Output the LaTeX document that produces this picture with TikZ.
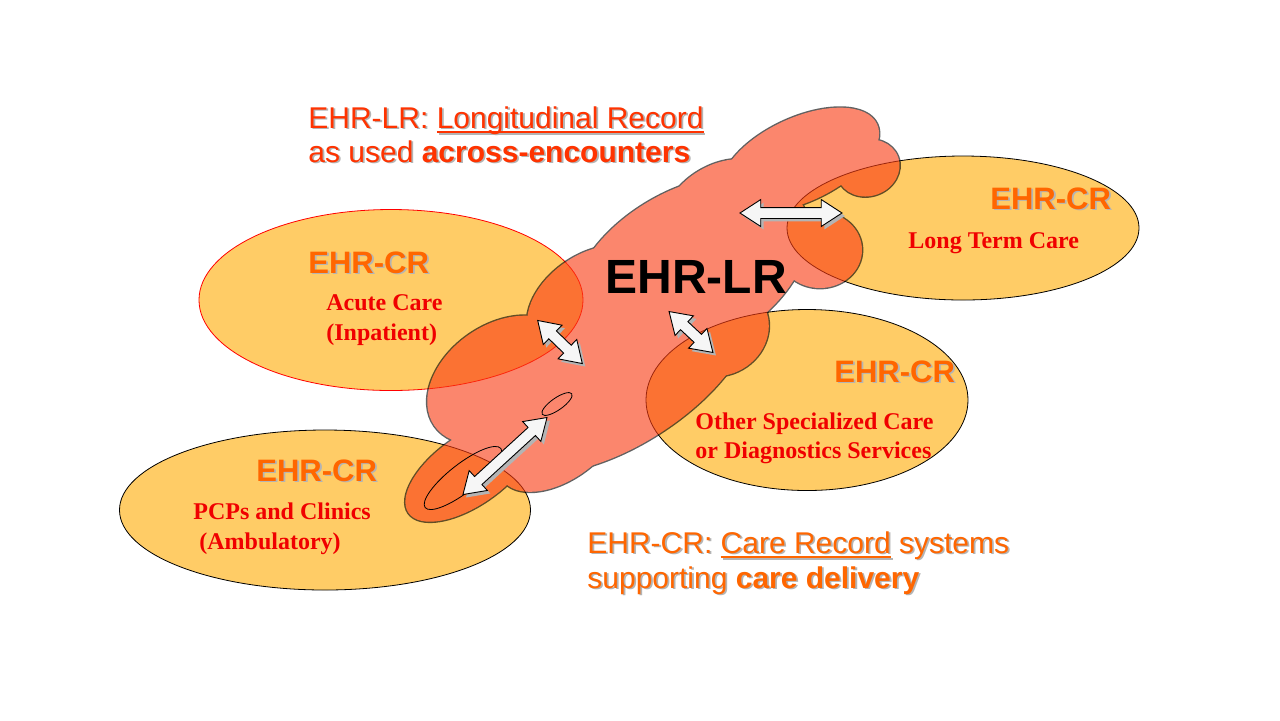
\documentclass[tikz,border=0pt]{standalone}
\usepackage{fontspec}
\setmainfont{Liberation Serif}
\newfontfamily\arialfam{Liberation Sans}
\usetikzlibrary{shapes.geometric,shapes.arrows}
\definecolor{peach}{RGB}{255,204,102}
\definecolor{cloudred}{RGB}{250,60,20}
\definecolor{titlered}{RGB}{255,51,0}
\definecolor{crorange}{RGB}{255,102,0}
\definecolor{shadowgray}{RGB}{180,180,180}
\definecolor{labelred}{RGB}{240,0,0}
\definecolor{arrowwhite}{RGB}{246,246,246}
\newcommand\shtext[1]{\rlap{\kern0.9pt\raisebox{-0.9pt}{\color{shadowgray}#1}}#1}
\newcommand\myul[1]{\setbox0\hbox{#1}\rlap{\rule[-2.6pt]{\wd0}{1.1pt}}\box0\relax}
\tikzset{
  region/.style={ellipse, draw=black, fill=peach, line width=0.4pt, inner sep=0pt},
  dblarrow/.style={double arrow, draw=black, line width=0.45pt, fill=arrowwhite,
    inner xsep=0pt, inner ysep=2.5pt,
    minimum width=13pt, double arrow head extend=4pt, double arrow tip angle=66},
  dblshadow/.style={dblarrow, draw=none, fill=shadowgray},
  crlabel/.style={anchor=base west, inner sep=0pt, text=crorange, font=\arialfam\bfseries\fontsize{15.5pt}{18pt}\selectfont},
  serifred/.style={anchor=base west, inner sep=0pt, text=labelred, font=\bfseries\fontsize{12pt}{14pt}\selectfont},
  titletext/.style={anchor=base west, inner sep=0pt, font=\arialfam\fontsize{15pt}{17pt}\selectfont}
}
\begin{document}
\begin{tikzpicture}[x=0.5pt,y=-0.5pt]
\fill[white] (0,0) rectangle (1280,720);
\useasboundingbox (0,0) rectangle (1280,720);

% care record regions
\node[region, draw=red, minimum width=192pt, minimum height=90.5pt] (acute) at (391,300) {};
\node[region, minimum width=176pt, minimum height=72pt] (ltc) at (963,228) {};
\node[region, minimum width=161pt, minimum height=90.5pt] (osc) at (807,400) {};
\node[region, minimum width=205.5pt, minimum height=80pt] (pcp) at (325,510) {};

% longitudinal record cloud
\def\lobes{800/160/85/42/25, 868/168/32/28/20, 820/250/42/38/0,
      690/270/130/80/30, 622/372/150/72/33, 500/380/80/55/35, 470/470/75/35/35,
      560/440/70/40/35, 590/300/70/45/35, 720/330/50/45/30, 720/205/60/40/30}
\begin{scope}[transparency group, opacity=0.62]
  \foreach \cx/\cy/\rx/\ry/\an in \lobes
    \draw[line width=1.4pt, rotate around={\an:(\cx,\cy)}] (\cx,\cy) ellipse [x radius=\rx, y radius=\ry];
  \foreach \cx/\cy/\rx/\ry/\an in \lobes
    \fill[cloudred, rotate around={\an:(\cx,\cy)}] (\cx,\cy) ellipse [x radius=\rx, y radius=\ry];
\end{scope}
\draw[line width=0.4pt, rotate around={38:(463,478)}] (463,478) ellipse [x radius=48, y radius=14];
\draw[line width=0.4pt, rotate around={35:(557,404)}] (557,404) ellipse [x radius=18, y radius=6];

% arrows
\node[dblshadow, minimum height=51pt] (s1) at (794,216) {};
\node[dblshadow, minimum height=31pt, rotate=-44] (s2) at (563,345) {};
\node[dblshadow, minimum height=30pt, rotate=-43] (s3) at (694,335) {};
\node[dblshadow, minimum height=57pt, rotate=42.5] (s4) at (508,459) {};
\node[dblarrow, minimum height=51pt] (a1) at (791,213) {};
\node[dblarrow, minimum height=31pt, rotate=-44] (a2) at (560,342) {};
\node[dblarrow, minimum height=30pt, rotate=-43] (a3) at (691,332) {};
\node[dblarrow, minimum height=57pt, rotate=42.5] (a4) at (505,456) {};

% texts
\node[titletext, text=titlered] (lr1) at (308,128) {\shtext{EHR-LR: \myul{Longitudinal Record}}};
\node[titletext, text=titlered] (lr2) at (308,162) {\shtext{as used \textbf{across-encounters}}};
\node[titletext, text=crorange] (cr1) at (587,553) {\shtext{EHR-CR: \myul{Care Record} systems}};
\node[titletext, text=crorange] (cr2) at (587,588) {\shtext{supporting \textbf{care delivery}}};

\node[anchor=base west, inner sep=0pt, font=\arialfam\bfseries\fontsize{24pt}{28pt}\selectfont] (lrbig) at (605,293) {EHR-LR};

\node[crlabel] (acutecr) at (308,273) {\shtext{EHR-CR}};
\node[crlabel] (ltccr) at (990,209) {\shtext{EHR-CR}};
\node[crlabel] (osccr) at (834,382) {\shtext{EHR-CR}};
\node[crlabel] (pcpcr) at (256,481) {\shtext{EHR-CR}};

\node[serifred] (acute1) at (326,310) {Acute Care};
\node[serifred] (acute2) at (326,340) {(Inpatient)};
\node[serifred] (ltc1) at (908,248) {Long Term Care};
\node[serifred] (osc1) at (695,429) {Other Specialized Care};
\node[serifred] (osc2) at (695,458) {or Diagnostics Services};
\node[serifred] (pcp1) at (193,519) {PCPs and Clinics};
\node[serifred] (pcp2) at (199,549) {(Ambulatory)};
\end{tikzpicture}
\end{document}
